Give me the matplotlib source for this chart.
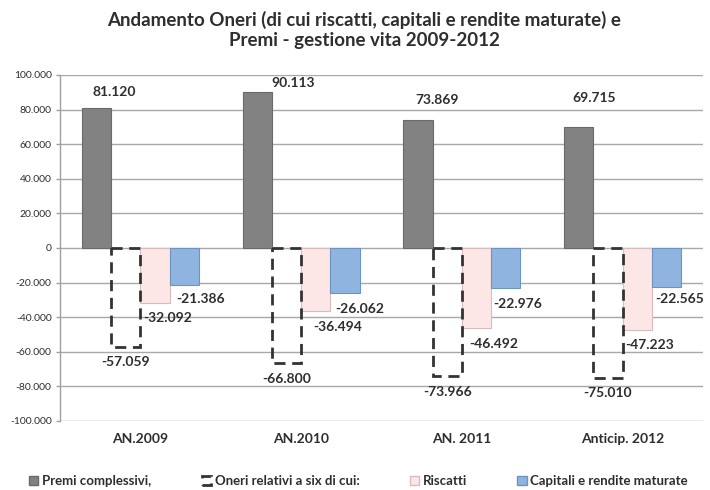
import numpy as np
import matplotlib
matplotlib.use("Agg")
import matplotlib.pyplot as plt
from matplotlib.patches import Rectangle
from matplotlib.ticker import FuncFormatter

plt.rcParams['font.family'] = ['Lato', 'DejaVu Sans']

categories = ["AN.2009", "AN.2010", "AN. 2011", "Anticip. 2012"]
premi = [81120, 90113, 73869, 69715]
oneri = [-57059, -66800, -73966, -75010]
riscatti = [-32092, -36494, -46492, -47223]
capitali = [-21386, -26062, -22976, -22565]
series_names = ["Premi complessivi,", "Oneri relativi a six di cui:", "Riscatti",
                "Capitali e rendite maturate"]

# label offsets in pixels (dx, dy) relative to bar centre / bar end
premi_off = [(18, 16), (36, 9), (19, 20), (15, 29)]
oneri_off = [(0, -15), (0, -16), (0, -16), (0, -15)]
riscatti_off = [(13, -15), (22, -16), (17, -16), (12, -15)]
capitali_off = [(16, -14), (15, -16), (12, -16), (13, -12)]

def fmt(v, pos=None):
    s = f"{abs(int(v)):,}".replace(",", ".")
    return ("-" if v < 0 else "") + s

fig = plt.figure(figsize=(7.1, 4.9), dpi=100)
ax = fig.add_axes([0.0845, 0.141, 0.9055, 0.706])

x = np.arange(len(categories))
w = 0.182
col_premi = "#828282"
col_risc = "#fde6e6"
col_cap = "#8fb4e0"
txt = "#2e2e2e"
dash = (0, (4, 2.4))

ax.bar(x - 1.5 * w, premi, w, color=col_premi, edgecolor="#6a6a6a", linewidth=0.8, zorder=3)
ax.bar(x - 0.5 * w, oneri, w, facecolor="none", edgecolor="#333333", linewidth=2.0,
       linestyle=dash, zorder=4)
ax.bar(x + 0.5 * w, riscatti, w, color=col_risc, edgecolor="#d9bcbc", linewidth=0.8, zorder=3)
ax.bar(x + 1.5 * w, capitali, w, color=col_cap, edgecolor="#6f93bf", linewidth=0.8, zorder=3)

def put_labels(xs, vals, offs):
    for xi, v, (dx, dy) in zip(xs, vals, offs):
        ax.annotate(fmt(v), (xi, v), xytext=(dx * 0.72, dy * 0.72), textcoords="offset points",
                    ha="center", va="center", fontsize=10, fontweight="bold", color=txt,
                    zorder=6)

put_labels(x - 1.5 * w, premi, premi_off)
put_labels(x - 0.5 * w, oneri, oneri_off)
put_labels(x + 0.5 * w, riscatti, riscatti_off)
put_labels(x + 1.5 * w, capitali, capitali_off)

ax.set_xlim(-0.5, len(categories) - 0.5)
ax.set_ylim(-100000, 100000)
ax.set_yticks(np.arange(-100000, 100001, 20000))
ax.yaxis.set_major_formatter(FuncFormatter(fmt))
ax.yaxis.grid(True, color="#a8a8a8", linewidth=1.0, zorder=0)
ax.set_axisbelow(True)
ax.tick_params(axis="y", labelsize=7.5, colors="#a0a0a0", labelcolor=txt, length=3, width=1, pad=3)
ax.set_xticks(x)
ax.set_xticklabels(categories, fontsize=10, fontweight="bold", color=txt)
ax.tick_params(axis="x", length=0, pad=9)
for s in ["top", "right", "bottom"]:
    ax.spines[s].set_visible(False)
ax.spines["left"].set_color("#a0a0a0")
ax.spines["left"].set_linewidth(1.0)

fig.text(0.513, 0.978, "Andamento Oneri (di cui riscatti, capitali e rendite maturate) e\nPremi - gestione vita 2009-2012",
         ha="center", va="top", fontsize=13.5, fontweight="bold", color=txt, linespacing=1.25)

handles = [
    Rectangle((0, 0), 1, 1, facecolor=col_premi, edgecolor="#6a6a6a"),
    Rectangle((0, 0), 1, 1, facecolor="white", edgecolor="#333333", linewidth=2.0,
              linestyle=dash),
    Rectangle((0, 0), 1, 1, facecolor=col_risc, edgecolor="#d9bcbc"),
    Rectangle((0, 0), 1, 1, facecolor=col_cap, edgecolor="#6f93bf"),
]
leg = fig.legend(handles, series_names, loc="center", bbox_to_anchor=(0.505, 0.018), ncol=4,
                 frameon=False, handlelength=0.7, handleheight=0.7, handletextpad=0.3,
                 columnspacing=3.8, prop={"size": 9.5, "weight": "bold"})
for t in leg.get_texts():
    t.set_color(txt)

fig.savefig("out.png", dpi=100)
